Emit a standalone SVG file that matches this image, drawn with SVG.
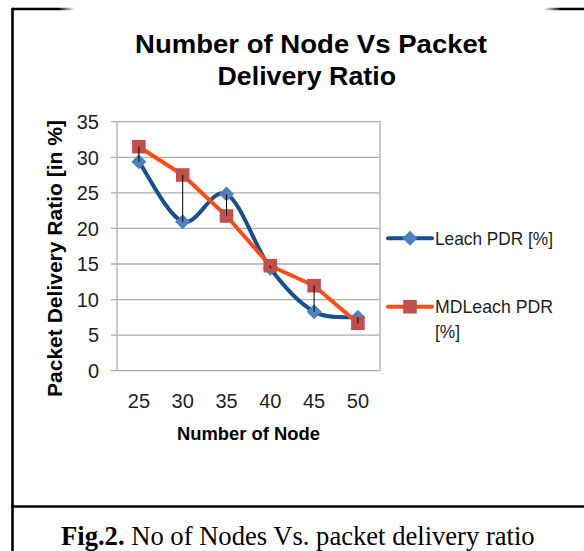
<svg xmlns="http://www.w3.org/2000/svg" xmlns:xlink="http://www.w3.org/1999/xlink" width="584" height="551" viewBox="0 0 584 551">
<style>
.grid{stroke:#ADADAD;stroke-width:1.3;fill:none}
.tick{font-family:"Liberation Sans",Arial,sans-serif;font-size:20px;fill:#1e1e1e}
.lab{font-family:"Liberation Sans",Arial,sans-serif;font-size:19px;fill:#1e1e1e}
.bold{font-family:"Liberation Sans",Arial,sans-serif;font-weight:bold;fill:#000}
.hilo{stroke:#000;stroke-width:1}
.frame{stroke:#000;stroke-width:2.6;fill:none}
</style>
<defs>
<linearGradient id="topfade" gradientUnits="userSpaceOnUse" x1="12" y1="0" x2="584" y2="0">
<stop offset="0" stop-color="#000"/>
<stop offset="0.08" stop-color="#000"/>
<stop offset="0.11" stop-color="#fff"/>
<stop offset="0.93" stop-color="#fff"/>
<stop offset="0.96" stop-color="#000"/>
<stop offset="1" stop-color="#000"/>
</linearGradient>
<path id="dia" d="M0,-7.5 L7.5,0 L0,7.5 L-7.5,0Z" fill="#4F81BD"/>
<rect id="sq" x="-6.8" y="-6.8" width="13.6" height="13.6" fill="#C0504D"/>
</defs>
<rect width="584" height="551" fill="#fff"/>
<g id="frame">
<line x1="12.5" y1="9" x2="584" y2="9" stroke="url(#topfade)" stroke-width="2.6"/>
<line class="frame" x1="12.5" y1="7.7" x2="12.5" y2="551"/>
<line class="frame" x1="11.2" y1="506.5" x2="584" y2="506.5"/>
</g>
<g id="title">
<text class="bold" x="135" y="53.3" font-size="26" textLength="352" lengthAdjust="spacingAndGlyphs">Number of Node  Vs Packet</text>
<text class="bold" x="217.5" y="85" font-size="26" textLength="178.5" lengthAdjust="spacingAndGlyphs">Delivery Ratio</text>
</g>
<g id="plot">
<line class="grid" x1="111" y1="121.7" x2="380" y2="121.7"/>
<line class="grid" x1="111" y1="157.3" x2="380" y2="157.3"/>
<line class="grid" x1="111" y1="192.9" x2="380" y2="192.9"/>
<line class="grid" x1="111" y1="228.4" x2="380" y2="228.4"/>
<line class="grid" x1="111" y1="264" x2="380" y2="264"/>
<line class="grid" x1="111" y1="299.6" x2="380" y2="299.6"/>
<line class="grid" x1="111" y1="335.1" x2="380" y2="335.1"/>
<line class="grid" x1="111" y1="370.7" x2="380" y2="370.7"/>
<line class="grid" x1="117" y1="121.7" x2="117" y2="370.7"/>
<line class="grid" x1="380" y1="121.7" x2="380" y2="370.7"/>
</g>
<g id="y-labels" text-anchor="end">
<text class="tick" x="99" y="128.9">35</text>
<text class="tick" x="99" y="164.5">30</text>
<text class="tick" x="99" y="200.1">25</text>
<text class="tick" x="99" y="235.6">20</text>
<text class="tick" x="99" y="271.2">15</text>
<text class="tick" x="99" y="306.8">10</text>
<text class="tick" x="99" y="342.3">5</text>
<text class="tick" x="99" y="377.9">0</text>
</g>
<g id="x-labels" text-anchor="middle">
<text class="tick" x="138.9" y="407.6">25</text>
<text class="tick" x="182.7" y="407.6">30</text>
<text class="tick" x="226.5" y="407.6">35</text>
<text class="tick" x="270.3" y="407.6">40</text>
<text class="tick" x="314.1" y="407.6">45</text>
<text class="tick" x="357.9" y="407.6">50</text>
</g>
<g id="axis-titles">
<text class="bold" x="177" y="440" font-size="18.5" textLength="143" lengthAdjust="spacingAndGlyphs">Number of Node</text>
<text class="bold" transform="translate(62,258.5) rotate(-90)" text-anchor="middle" font-size="19.5" textLength="277" lengthAdjust="spacingAndGlyphs">Packet Delivery Ratio [in %]</text>
</g>
<g id="series-leach">
<path d="M138.9,161.7 C146.2,171.7 168.1,216.3 182.7,221.7 C197.3,227.1 211.9,186.2 226.5,194 C241.1,201.8 255.7,248.7 270.3,268.3 C284.9,287.9 299.5,303.5 314.1,311.7 C328.7,319.9 350.6,316.4 357.9,317.3" fill="none" stroke="#1B4F8A" stroke-width="4" stroke-linecap="round" stroke-linejoin="round"/>
<use xlink:href="#dia" x="138.9" y="161.7"/>
<use xlink:href="#dia" x="182.7" y="221.7"/>
<use xlink:href="#dia" x="226.5" y="194"/>
<use xlink:href="#dia" x="270.3" y="268.3"/>
<use xlink:href="#dia" x="314.1" y="311.7"/>
<use xlink:href="#dia" x="357.9" y="317.3"/>
</g>
<g id="series-mdleach">
<polyline points="138.9,146.7 182.7,175 226.5,216 270.3,265.7 314.1,285.7 357.9,323.3" fill="none" stroke="#FF4D1A" stroke-width="4" stroke-linecap="round" stroke-linejoin="round"/>
<use xlink:href="#sq" x="138.9" y="146.7"/>
<use xlink:href="#sq" x="182.7" y="175"/>
<use xlink:href="#sq" x="226.5" y="216"/>
<use xlink:href="#sq" x="270.3" y="265.7"/>
<use xlink:href="#sq" x="314.1" y="285.7"/>
<use xlink:href="#sq" x="357.9" y="323.3"/>
</g>
<g id="connectors">
<line class="hilo" x1="138.9" y1="146.7" x2="138.9" y2="161.7"/>
<line class="hilo" x1="182.7" y1="175" x2="182.7" y2="221.7"/>
<line class="hilo" x1="226.5" y1="194" x2="226.5" y2="216"/>
<line class="hilo" x1="270.3" y1="265.7" x2="270.3" y2="268.3"/>
<line class="hilo" x1="314.1" y1="285.7" x2="314.1" y2="311.7"/>
<line class="hilo" x1="357.9" y1="317.3" x2="357.9" y2="323.3"/>
</g>
<g id="legend">
<line x1="388" y1="238.3" x2="432" y2="238.3" stroke="#1B4F8A" stroke-width="4" stroke-linecap="round"/>
<use xlink:href="#dia" x="410" y="238.3"/>
<text class="lab" x="435" y="244.6" textLength="118" lengthAdjust="spacingAndGlyphs">Leach PDR [%]</text>
<line x1="388" y1="306.7" x2="432" y2="306.7" stroke="#FF4D1A" stroke-width="4" stroke-linecap="round"/>
<use xlink:href="#sq" x="410" y="306.7"/>
<text class="lab" x="435" y="313.3" textLength="118" lengthAdjust="spacingAndGlyphs">MDLeach PDR</text>
<text class="lab" x="435" y="337.5" textLength="25" lengthAdjust="spacingAndGlyphs">[%]</text>
</g>
<g id="caption">
<text x="61" y="544.5" font-family="'Liberation Serif','Times New Roman',serif" font-size="26.6" fill="#000"><tspan font-weight="bold">Fig.2.</tspan> No of Nodes Vs. packet delivery ratio</text>
</g>
</svg>
